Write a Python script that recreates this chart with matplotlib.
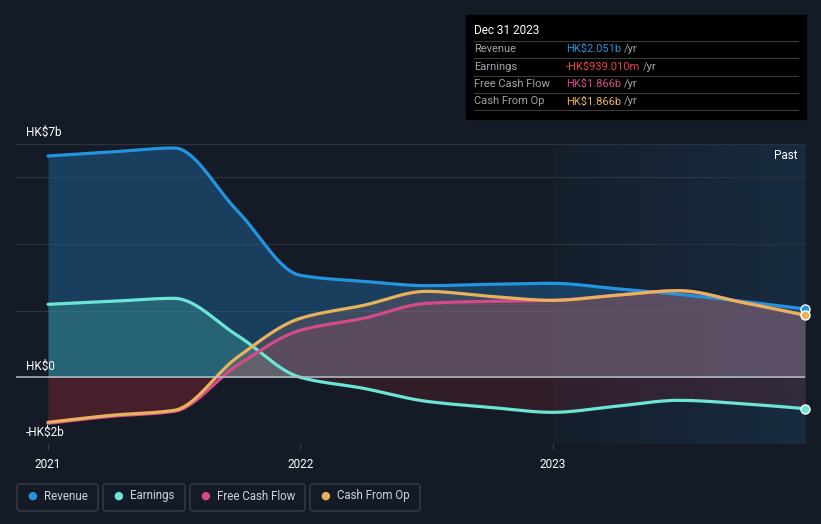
import matplotlib.pyplot as plt
import matplotlib.patches as mpatches
import numpy as np

plt.rcParams['font.family'] = ['Roboto', 'DejaVu Sans']
plt.rcParams['text.parse_math'] = False

# quarterly values, HK$ billions
quarters = [2021.0, 2021.25, 2021.5, 2021.75, 2022.0, 2022.25, 2022.5, 2022.75,
            2023.0, 2023.25, 2023.5, 2023.75, 2024.0]
revenue = [6.64, 6.76, 6.88, 5.0, 3.06, 2.88, 2.75, 2.79, 2.82, 2.66, 2.49, 2.28, 2.051]
earnings = [2.19, 2.28, 2.37, 1.26, 0.0, -0.33, -0.72, -0.9, -1.05, -0.87, -0.69, -0.79, -0.939]
free_cash_flow = [-1.38, -1.17, -1.02, 0.36, 1.41, 1.77, 2.22, 2.28, 2.31, 2.46, 2.6, 2.25, 1.866]
cash_from_op = [-1.35, -1.14, -0.99, 0.6, 1.77, 2.16, 2.58, 2.43, 2.31, 2.46, 2.6, 2.25, 1.866]

names = ['Revenue', 'Earnings', 'Free Cash Flow', 'Cash From Op']
colors = ['#2394df', '#6ce5d5', '#d44b88', '#e8b25c']
bg = '#151b26'


# monotone cubic curve (Fritsch-Carlson) just for drawing smooth lines
def smooth(x, y, n=400):
    x = np.asarray(x, float)
    y = np.asarray(y, float)
    h = np.diff(x)
    d = np.diff(y) / h
    m = np.zeros_like(y)
    m[0], m[-1] = d[0], d[-1]
    for k in range(1, len(y) - 1):
        if d[k - 1] * d[k] <= 0:
            m[k] = 0
        else:
            w1 = 2 * h[k] + h[k - 1]
            w2 = h[k] + 2 * h[k - 1]
            m[k] = (w1 + w2) / (w1 / d[k - 1] + w2 / d[k])
    xs = np.linspace(x[0], x[-1], n)
    idx = np.clip(np.searchsorted(x, xs) - 1, 0, len(x) - 2)
    t = (xs - x[idx]) / h[idx]
    h00 = 2 * t**3 - 3 * t**2 + 1
    h10 = t**3 - 2 * t**2 + t
    h01 = -2 * t**3 + 3 * t**2
    h11 = t**3 - t**2
    ys = h00 * y[idx] + h10 * h[idx] * m[idx] + h01 * y[idx + 1] + h11 * h[idx] * m[idx + 1]
    return xs, ys


fig = plt.figure(figsize=(8.21, 5.24), dpi=100)
fig.patch.set_facecolor(bg)
ax = fig.add_axes([16 / 821, 80 / 524, 789 / 821, 300 / 524])
ax.set_facecolor(bg)
x0 = 2021 - 32 / 252.5
ax.set_xlim(x0, 2024.0)
ax.set_ylim(-2, 7)

# past region shading
grad = np.zeros((2, 100, 4))
grad[..., 0] = 0x1d / 255
grad[..., 1] = 0x4a / 255
grad[..., 2] = 0x72 / 255
grad[..., 3] = np.linspace(0.08, 0.35, 100)
ax.imshow(grad, extent=[2023.0, 2024.0, -2, 7], aspect='auto', zorder=0)

# grid
for gy in [-2, 2, 4, 6, 7]:
    ax.axhline(gy, color='#2c3340', lw=0.9, zorder=1)
ax.axhline(0, color='#b8bcc4', lw=1.1, zorder=6)

series = [revenue, earnings, free_cash_flow, cash_from_op]
fill_alpha = [0.45, 0.35, 0.22, 0.22]
fill_cols = ['#1f6aa3', '#3fa9a0', '#c0404f', '#c07a6a']
for s, c, fc, a in zip(series, colors, fill_cols, fill_alpha):
    xs, ys = smooth(quarters, s)
    ax.fill_between(xs, ys, 0, where=ys >= 0, interpolate=True, color=fc, alpha=a, lw=0, zorder=2)
    ax.fill_between(xs, ys, 0, where=ys <= 0, interpolate=True, color='#a02a35', alpha=0.2,
                    lw=0, zorder=2)
for s, c in zip(series, colors):
    xs, ys = smooth(quarters, s)
    ax.plot(xs, ys, color=c, lw=2.3, zorder=5, solid_capstyle='round')

# end markers
for s, c in zip([revenue, earnings, cash_from_op], [colors[0], colors[1], colors[3]]):
    ax.plot(quarters[-1], s[-1], 'o', ms=6.5, color=c, mec='white', mew=1,
            zorder=7, clip_on=False)

for sp in ax.spines.values():
    sp.set_visible(False)
ax.set_yticks([])
ax.set_xticks([2021, 2022, 2023])
ax.set_xticklabels(['2021', '2022', '2023'])
ax.tick_params(axis='x', colors='#3a414d', labelcolor='white', length=4, labelsize=8.5, pad=6)

# y labels inside
ax.text(x0 + 10 / 252.5, 7.15, 'HK$7b', color='white', fontsize=8.5, va='bottom', ha='left')
ax.text(x0 + 10 / 252.5, 0.15, 'HK$0', color='white', fontsize=8.5, va='bottom', ha='left')
ax.text(x0 + 10 / 252.5, -1.85, '-HK$2b', color='white', fontsize=8.5, va='bottom', ha='left')
ax.text(2023.97, 6.65, 'Past', color='white', fontsize=8.5, va='center', ha='right')

# tooltip box
fig.patches.append(mpatches.Rectangle((466 / 821, 1 - 119 / 524), 340 / 821, 104 / 524,
                                      transform=fig.transFigure, color='black', zorder=10))
fig.text(474 / 821, 1 - 31 / 524, 'Dec 31 2023', color='white', fontsize=8.5,
         va='center', zorder=11)
row_vals = ['HK$2.051b', '-HK$939.010m', 'HK$1.866b', 'HK$1.866b']
row_cols = ['#2394df', '#e8424a', '#d44b88', '#e8b25c']
for i, (n, v, c) in enumerate(zip(names, row_vals, row_cols)):
    yy = 49 + i * 17.5
    fig.lines.append(plt.Line2D([474 / 821, 798 / 821], [1 - (yy - 8.5) / 524] * 2,
                                transform=fig.transFigure, color='#3a3a3a', lw=0.8, zorder=11))
    fig.text(474 / 821, 1 - yy / 524, n, color='#a0a4aa', fontsize=8, va='center', zorder=11)
    t = fig.text(566 / 821, 1 - yy / 524, v, color=c, fontsize=8, va='center', zorder=11)
    fig.canvas.draw()
    bb = t.get_window_extent()
    fig.text(bb.x1 / 821 + 3 / 821, 1 - yy / 524, '/yr', color='#a0a4aa', fontsize=8,
             va='center', zorder=11)
fig.lines.append(plt.Line2D([474 / 821, 798 / 821], [1 - 110 / 524] * 2,
                            transform=fig.transFigure, color='#3a3a3a', lw=0.8, zorder=11))

# legend boxes
lx = [17, 103, 190, 310]
lw = [81, 82, 115, 110]
for x, w, n, c in zip(lx, lw, names, colors):
    fig.patches.append(mpatches.FancyBboxPatch((x / 821, 1 - 511 / 524), w / 821, 27 / 524,
                                               boxstyle='round,pad=0,rounding_size=0.004',
                                               transform=fig.transFigure, fc=bg,
                                               ec='#3a414d', lw=0.9))
    fig.text((x + 15) / 821, 1 - 496 / 524, '●', color=c, fontsize=8, va='center', ha='center')
    fig.text((x + 27) / 821, 1 - 496 / 524, n, color='#d0d3d8', fontsize=8.3, va='center')

fig.savefig('out.png', dpi=100, facecolor=bg)
